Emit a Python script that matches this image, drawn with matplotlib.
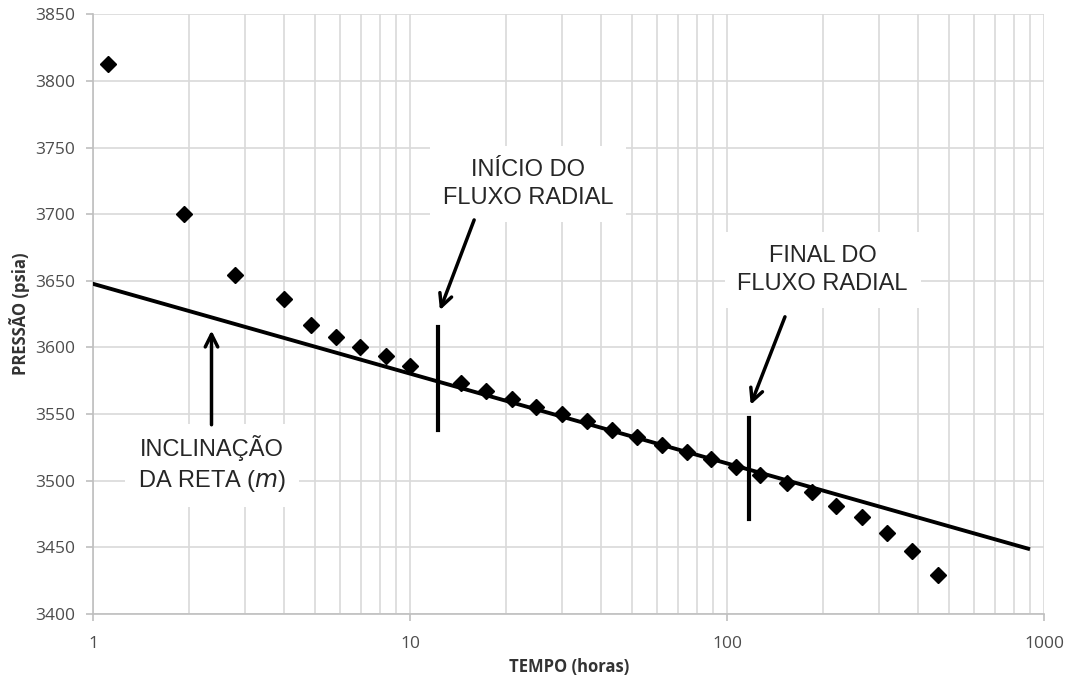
import numpy as np
import matplotlib
matplotlib.use('Agg')
import matplotlib.pyplot as plt
from matplotlib.ticker import FixedLocator, NullFormatter

# dados
tempo = [1.11, 1.93, 2.80, 4.00, 4.85, 5.82, 6.96, 8.36, 9.98,
         14.4, 17.3, 20.9, 24.9, 30.1, 36.1, 43.3, 51.9, 62.2, 74.6,
         88.9, 106.5, 126.8, 154.3, 185, 220, 266, 319, 383, 463]
pressao = [3812.5, 3700, 3654, 3636.5, 3617, 3608, 3600.5, 3593.5, 3586,
           3573, 3567.5, 3561.5, 3555, 3550, 3545, 3538, 3533, 3527, 3521.5,
           3516, 3510.5, 3504, 3498, 3491.5, 3481, 3472.5, 3461, 3447, 3429.5]

# reta semilog (inclinacao m)
reta_t = [1, 889]
reta_p = [3647.7, 3449]

# limites do fluxo radial
inicio_t, inicio_p = 12.2, [3538, 3615]
final_t, final_p = 117, [3471, 3547]

cinza = '#4d4d4d'
grade = '#d9d9d9'

fig = plt.figure(figsize=(10.71, 6.81), dpi=100)
ax = fig.add_axes([0.0871, 0.0984, 0.888, 0.8806])

ax.set_xscale('log')
ax.set_xlim(1, 1000)
ax.set_ylim(3400, 3850)
ax.set_yticks(np.arange(3400, 3851, 50))
ax.set_xticks([1, 10, 100, 1000])
ax.set_xticklabels(['1', '10', '100', '1000'])
ax.xaxis.set_minor_locator(FixedLocator([k * 10 ** d for d in range(3) for k in range(2, 10)]))
ax.xaxis.set_minor_formatter(NullFormatter())

ax.grid(True, which='major', color=grade, lw=1.2, zorder=0)
ax.grid(True, which='minor', axis='x', color=grade, lw=1.2, zorder=0)
ax.set_axisbelow(True)
for s in ['top', 'right']:
    ax.spines[s].set_visible(False)
for s in ['left', 'bottom']:
    ax.spines[s].set_color('#bfbfbf')
    ax.spines[s].set_linewidth(1.2)
ax.tick_params(which='major', length=5, color='#bfbfbf', labelcolor=cinza,
               labelsize=12.5, width=1.2)
ax.tick_params(which='minor', length=0)
for lab in ax.get_xticklabels() + ax.get_yticklabels():
    lab.set_family('Open Sans')
ax.tick_params(axis='x', pad=11)
ax.tick_params(axis='y', pad=8)

ax.set_xlabel('TEMPO (horas)', fontsize=12, fontweight='bold', color='#333333',
              family='Open Sans', labelpad=4)
ax.set_ylabel('PRESSÃO (psia)', fontsize=12, fontweight='bold', color='#333333',
              family='Open Sans', labelpad=4)

ax.plot(reta_t, reta_p, color='black', lw=2.8, zorder=3)
ax.plot(tempo, pressao, 'D', color='black', ms=8, zorder=4, clip_on=False)
ax.plot([inicio_t, inicio_t], inicio_p, color='black', lw=3, zorder=5)
ax.plot([final_t, final_t], final_p, color='black', lw=3, zorder=5)

caixa = dict(boxstyle='square,pad=0.55', fc='white', ec='none')
txt = dict(fontsize=17, color='#262626', family='Liberation Sans', ha='center',
           va='center', linespacing=1.35, bbox=caixa, zorder=6)
ax.text(23.5, 3722.7, 'INÍCIO DO\nFLUXO RADIAL', **txt)
ax.text(200, 3658, 'FINAL DO\nFLUXO RADIAL', **txt)
ax.text(2.37, 3512, 'INCLINAÇÃO\nDA RETA ($m$)', **txt)

seta = dict(arrowstyle='->,head_length=0.9,head_width=0.45', lw=2.5, color='black',
            shrinkA=0, shrinkB=0)
ax.annotate('', xy=(12.4, 3628), xytext=(15.9, 3695.7), arrowprops=seta, zorder=7)
ax.annotate('', xy=(118.5, 3557), xytext=(152, 3623), arrowprops=seta, zorder=7)
ax.annotate('', xy=(2.36, 3612.7), xytext=(2.36, 3542), arrowprops=seta, zorder=7)

fig.savefig('out.png', dpi=100, facecolor='white')
